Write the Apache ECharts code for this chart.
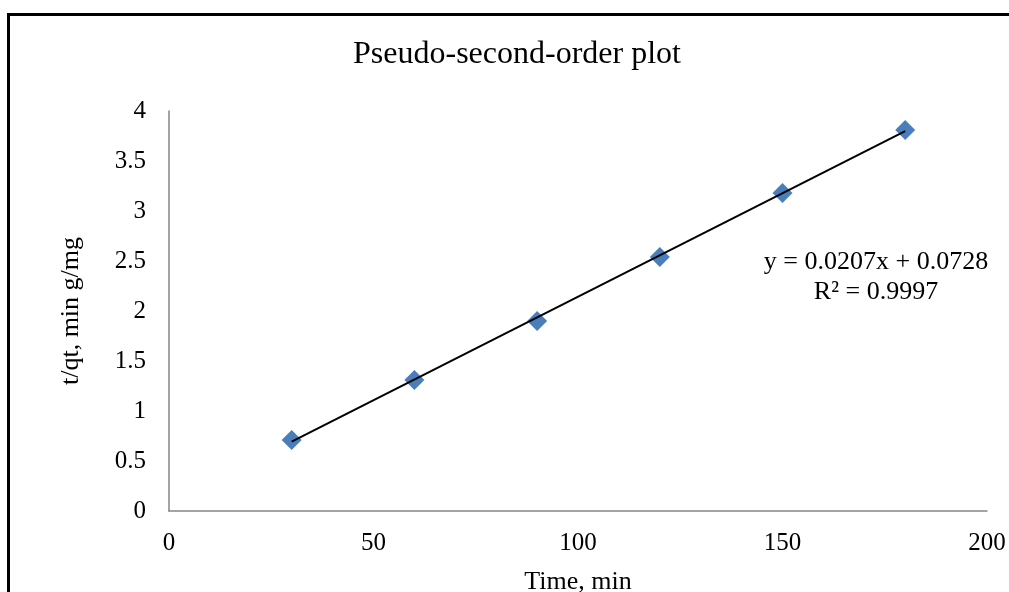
<!DOCTYPE html>
<html>
<head>
<meta charset="utf-8">
<script src="https://cdn.jsdelivr.net/npm/echarts@6/dist/echarts.min.js"></script>
<style>
  html, body { margin: 0; padding: 0; background: #fff; }
  #chart { width: 1009px; height: 592px; }
</style>
</head>
<body>
<div id="chart"></div>
<script>
// Kinetic data: time (min) against t/qt (min g/mg)
const timeMin = [30, 60, 90, 120, 150, 180];
const tOverQt = [0.71, 1.31, 1.90, 2.54, 3.18, 3.81];

// Linear fit reported on the chart
const fitSlope = 0.0207;
const fitIntercept = 0.0728;
const fitR2 = '0.9997';
const fitRange = [30, 180];

const xTicks = [0, 50, 100, 150, 200];
const yTicks = [0, 0.5, 1, 1.5, 2, 2.5, 3, 3.5, 4];

const fitLine = fitRange.map(x => [x, fitSlope * x + fitIntercept]);
const points = timeMin.map((t, i) => [t, tOverQt[i]]);

const serif = '"Liberation Serif", "Times New Roman", serif';
const chart = echarts.init(document.getElementById('chart'));

chart.setOption({
  animation: false,
  backgroundColor: '#ffffff',
  title: {
    text: 'Pseudo-second-order plot',
    left: 512, top: 34, textAlign: 'center',
    textStyle: { fontFamily: serif, fontSize: 32, fontWeight: 'normal', color: '#000' }
  },
  grid: { left: 169, right: 22, top: 111, bottom: 81, outerBoundsMode: 'none', containLabel: false },
  xAxis: {
    type: 'value', min: xTicks[0], max: xTicks[xTicks.length - 1], interval: 50,
    name: 'Time, min', nameLocation: 'middle', nameGap: 58,
    nameTextStyle: { fontFamily: serif, fontSize: 26, color: '#000' },
    axisLine: { show: true, onZero: false, lineStyle: { color: '#868686', width: 1.5 } },
    axisTick: { show: false },
    splitLine: { show: false },
    axisLabel: { fontFamily: serif, fontSize: 25, color: '#000', margin: 20 }
  },
  yAxis: {
    type: 'value', min: yTicks[0], max: yTicks[yTicks.length - 1], interval: 0.5,
    name: 't/qt, min g/mg', nameLocation: 'middle', nameGap: 85, nameRotate: 90,
    nameTextStyle: { fontFamily: serif, fontSize: 26, color: '#000' },
    axisLine: { show: true, onZero: false, lineStyle: { color: '#868686', width: 1.5 } },
    axisTick: { show: false },
    splitLine: { show: false },
    axisLabel: { fontFamily: serif, fontSize: 25, color: '#000', margin: 23 }
  },
  graphic: [
    {
      type: 'rect', silent: true, z: 100,
      shape: { x: 8.5, y: 14.5, width: 1100, height: 700 },
      style: { fill: 'none', stroke: '#000', lineWidth: 3 }
    },
    {
      type: 'text', x: 876, y: 262,
      style: {
        text: 'y = ' + fitSlope + 'x + ' + fitIntercept,
        font: '26px ' + serif, fill: '#000', align: 'center', verticalAlign: 'middle'
      }
    },
    {
      type: 'text', x: 876, y: 292,
      style: {
        text: 'R² = ' + fitR2,
        font: '26px ' + serif, fill: '#000', align: 'center', verticalAlign: 'middle'
      }
    }
  ],
  series: [
    {
      type: 'line', data: fitLine, symbol: 'none', silent: true, z: 3,
      lineStyle: { color: '#000', width: 2 }
    },
    {
      type: 'scatter', data: points, symbol: 'diamond', symbolSize: [20, 20], z: 2,
      itemStyle: { color: '#4a7ebb', opacity: 1 }
    }
  ]
});
</script>
</body>
</html>
